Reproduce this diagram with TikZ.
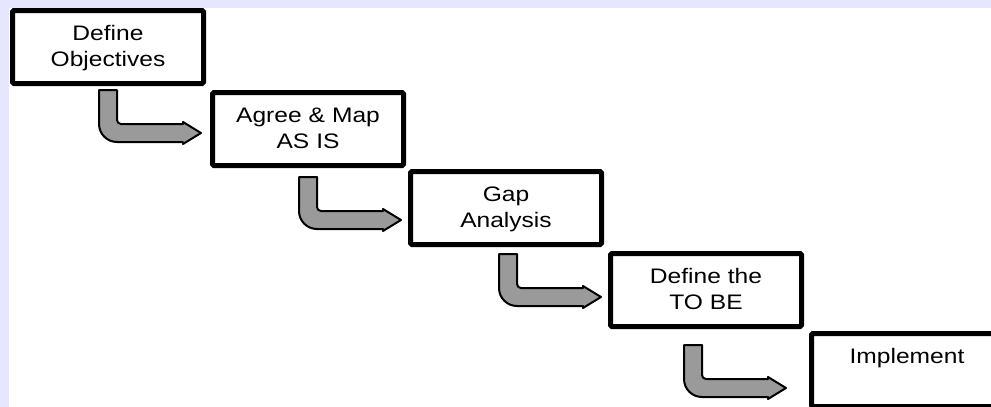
\documentclass[tikz,border=0pt]{standalone}
\usepackage{fontspec}
\setmainfont[FakeStretch=1.17]{Liberation Sans}
\begin{document}
\begin{tikzpicture}[x=1pt,y=1pt,
  stepbox/.style={draw,line width=5pt,rounded corners=1.5pt,fill=white,anchor=north west,
    text width=186pt,inner xsep=2.5pt,inner ysep=14.5pt,text height=15pt,text depth=29pt,
    align=center,font=\fontsize{21}{26}\selectfont},
  bendarrow/.pic={
    \filldraw [fill=arrowgray,draw=black,line width=2pt,line join=round]
      (1,-1) -- (1,-35) arc (180:270:18pt) -- (85,-53) -- (85,-55) -- (103,-44)
      -- (85,-33) -- (85,-35) -- (23,-35) arc (270:180:4pt) -- (19,-1) -- cycle;
  }]
 \definecolor{framecolor}{HTML}{E6E6FF}
 \definecolor{arrowgray}{HTML}{9A9A9A}
 \useasboundingbox (0,0) rectangle (991,-407);
 \clip (0,0) rectangle (991,-407);
 \fill [framecolor] (0,0) rectangle (991,-407);
 \fill [white] (9,-8) rectangle (991,-407);
 \node [stepbox] (objectives) at (10,-8) {Define\\Objectives};
 \node [stepbox] (asis) at (210,-90) {Agree \& Map\\AS IS};
 \node [stepbox] (gap) at (408,-169) {Gap\\Analysis};
 \node [stepbox] (tobe) at (608,-251) {Define the\\TO BE};
 \node [stepbox] (implement) at (809,-331) {Implement};
 \pic at ([shift={(88,-3)}]objectives.south west) {bendarrow};
 \pic at ([shift={(88,-8)}]asis.south west) {bendarrow};
 \pic at ([shift={(90,-6)}]gap.south west) {bendarrow};
 \pic at ([shift={(75,-15)}]tobe.south west) {bendarrow};
\end{tikzpicture}
\end{document}
